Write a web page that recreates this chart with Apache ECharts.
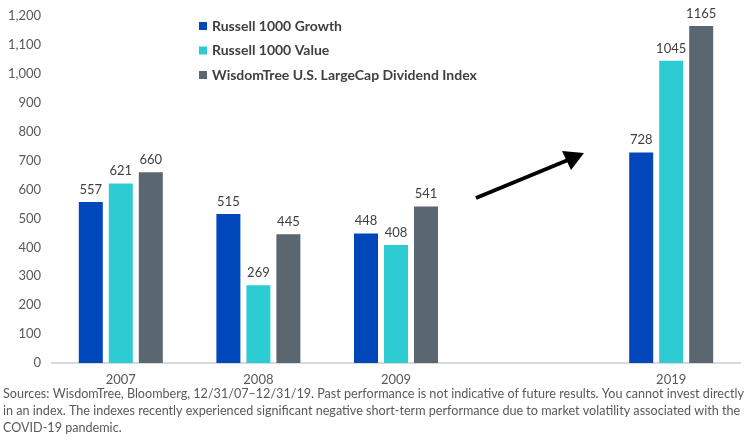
<!DOCTYPE html>
<html>
<head>
<meta charset="utf-8">
<script src="https://cdn.jsdelivr.net/npm/echarts@6/dist/echarts.min.js"></script>
<style>
  html, body { margin: 0; padding: 0; background: #fff; }
  #chart { width: 750px; height: 447px; }
</style>
</head>
<body>
<div id="chart"></div>
<script>
// categories (the empty one keeps the gap before 2019)
const years = ['2007', '2008', '2009', '', '2019']
const growth = [557, 515, 448, null, 728]
const value = [621, 269, 408, null, 1045]
const dividend = [660, 445, 541, null, 1165]
const seriesNames = ['Russell 1000 Growth', 'Russell 1000 Value', 'WisdomTree U.S. LargeCap Dividend Index']
const colors = ['#0047BB', '#2DCCD3', '#5B6770']
const note = 'Sources: WisdomTree, Bloomberg, 12/31/07\u201312/31/19. Past performance is not indicative of future results. You cannot invest directly\n' +
  'in an index. The indexes recently experienced significant negative short-term performance due to market volatility associated with the\n' +
  'COVID-19 pandemic.'

const font = 'Lato, "Open Sans", sans-serif'

function bar (name, data, color) {
  return {
    name: name,
    type: 'bar',
    data: data,
    barWidth: 24,
    barGap: '25%',
    itemStyle: { color: color },
    label: {
      show: true,
      position: 'top',
      distance: 6,
      color: '#404040',
      fontSize: 13,
      fontFamily: font
    }
  }
}

const chart = echarts.init(document.getElementById('chart'))
chart.setOption({
  animation: false,
  grid: { left: 52, right: 10, top: 16, bottom: 84 },
  legend: {
    orient: 'vertical',
    left: 194,
    top: 14,
    itemWidth: 8,
    itemHeight: 8,
    itemGap: 10.5,
    icon: 'rect',
    textStyle: { fontSize: 14, fontWeight: 'bold', color: '#404040', fontFamily: font },
    data: seriesNames
  },
  xAxis: {
    type: 'category',
    data: years,
    axisLine: { lineStyle: { color: '#D9D9D9', width: 2 } },
    axisTick: { show: false },
    axisLabel: { color: '#595959', fontSize: 13, margin: 10, fontFamily: font }
  },
  yAxis: {
    type: 'value',
    min: 0,
    max: 1200,
    interval: 100,
    splitLine: { show: false },
    axisLine: { show: false },
    axisTick: { show: false },
    axisLabel: {
      color: '#595959',
      fontSize: 13,
      margin: 11,
      fontFamily: font,
      formatter: v => v.toLocaleString('en-US')
    }
  },
  series: [
    bar(seriesNames[0], growth, colors[0]),
    bar(seriesNames[1], value, colors[1]),
    bar(seriesNames[2], dividend, colors[2])
  ],
  graphic: [
    {
      type: 'line',
      shape: { x1: 476, y1: 198, x2: 568, y2: 160 },
      style: { stroke: '#000', lineWidth: 4 }
    },
    {
      type: 'polygon',
      shape: { points: [[584, 153], [562, 151], [571, 170]] },
      style: { fill: '#000' }
    },
    {
      type: 'text',
      left: 3,
      top: 385,
      style: {
        text: note,
        fill: '#595959',
        font: '12.6px ' + font,
        lineHeight: 17
      }
    }
  ]
})
</script>
</body>
</html>
